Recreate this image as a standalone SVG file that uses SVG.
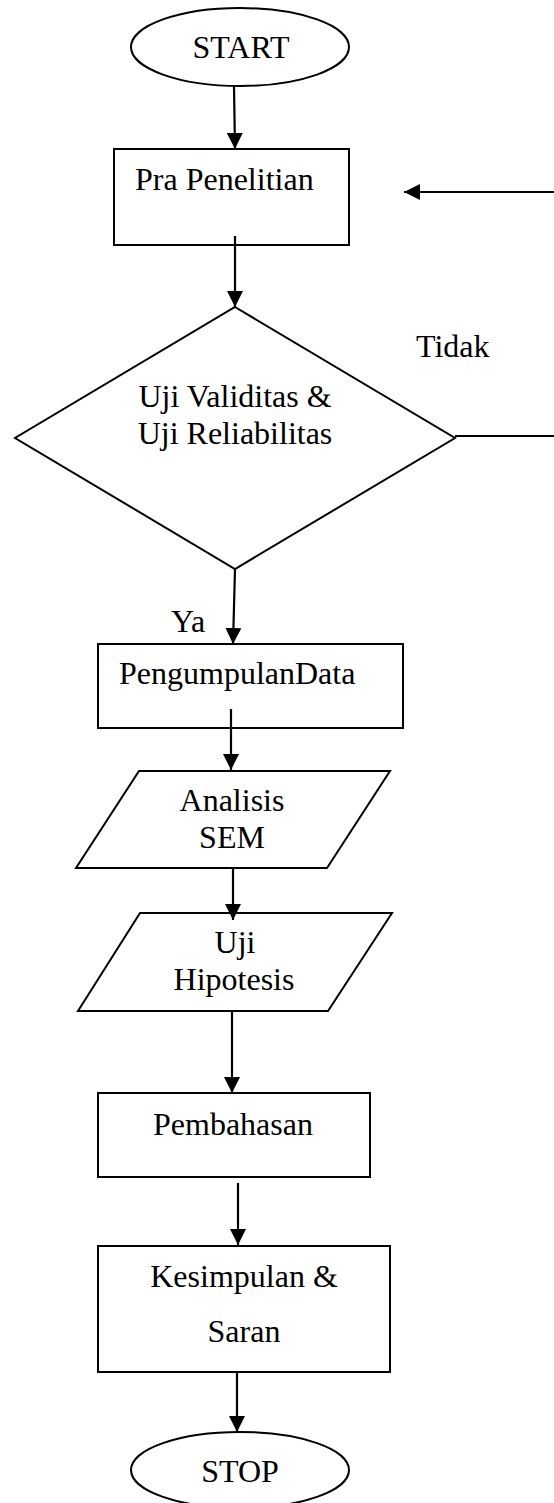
<svg xmlns="http://www.w3.org/2000/svg" width="554" height="1503" viewBox="0 0 554 1503">
<style>
.shape{fill:#fff;stroke:#000;stroke-width:2}
.conn{fill:none;stroke:#000;stroke-width:2.2}
text{font-family:"Liberation Serif","Times New Roman",serif;font-size:32px;fill:#000}
.c{text-anchor:middle}
</style>
<defs>
<marker id="arr" markerUnits="userSpaceOnUse" viewBox="0 0 16 16" markerWidth="16" markerHeight="16" refX="16" refY="8" orient="auto">
<path d="M0,0 L16,8 L0,16 z" fill="#000"/>
</marker>
</defs>
<rect width="554" height="1503" fill="#fff"/>
<g id="start">
<ellipse class="shape" cx="240" cy="47" rx="109" ry="39"/>
<text class="c" x="241" y="58">START</text>
</g>
<g id="pra">
<rect class="shape" x="114" y="149" width="235" height="96"/>
<text x="135" y="190">Pra Penelitian</text>
</g>
<g id="uji">
<polygon class="shape" points="235,307 455,438 235,569 15,438"/>
<text class="c" x="235" y="407">Uji Validitas &amp;</text>
<text class="c" x="235" y="444">Uji Reliabilitas</text>
</g>
<g id="pengumpulan">
<rect class="shape" x="98" y="644" width="305" height="84"/>
<text x="119" y="684">PengumpulanData</text>
</g>
<g id="analisis">
<polygon class="shape" points="139,771 390,771 327,868 76,868"/>
<text class="c" x="232" y="811">Analisis</text>
<text class="c" x="232" y="848">SEM</text>
</g>
<g id="hipotesis">
<polygon class="shape" points="140,913 392,913 328,1011 78,1011"/>
<text class="c" x="235" y="953">Uji</text>
<text class="c" x="234" y="990">Hipotesis</text>
</g>
<g id="pembahasan">
<rect class="shape" x="98" y="1093" width="272" height="84"/>
<text class="c" x="233" y="1135">Pembahasan</text>
</g>
<g id="kesimpulan">
<rect class="shape" x="98" y="1246" width="292" height="126"/>
<text class="c" x="244" y="1287">Kesimpulan &amp;</text>
<text class="c" x="244" y="1342">Saran</text>
</g>
<g id="stop">
<ellipse class="shape" cx="240" cy="1470" rx="109" ry="38"/>
<text class="c" x="240" y="1482">STOP</text>
</g>
<g id="connectors">
<line class="conn" x1="234" y1="86" x2="235" y2="149" marker-end="url(#arr)"/>
<line class="conn" x1="235" y1="236" x2="235" y2="307" marker-end="url(#arr)"/>
<line class="conn" x1="455" y1="436" x2="554" y2="436"/>
<line class="conn" x1="554" y1="192" x2="404" y2="192" marker-end="url(#arr)"/>
<line class="conn" x1="235" y1="569" x2="233" y2="644" marker-end="url(#arr)"/>
<line class="conn" x1="231" y1="709" x2="231" y2="770" marker-end="url(#arr)"/>
<line class="conn" x1="233" y1="868" x2="233" y2="920" marker-end="url(#arr)"/>
<line class="conn" x1="232" y1="1011" x2="232" y2="1093" marker-end="url(#arr)"/>
<line class="conn" x1="238" y1="1183" x2="238" y2="1245" marker-end="url(#arr)"/>
<line class="conn" x1="237" y1="1372" x2="237" y2="1432" marker-end="url(#arr)"/>
<text x="416" y="357">Tidak</text>
<text x="171" y="632">Ya</text>
</g>
</svg>
